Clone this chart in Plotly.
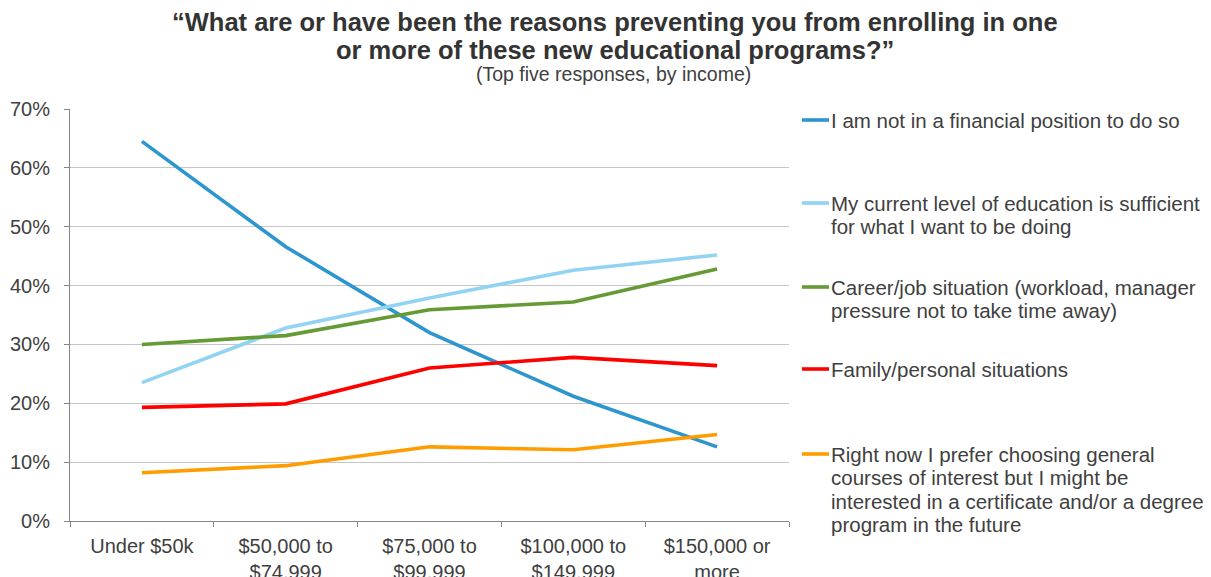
import plotly.graph_objects as go

# Income brackets (x categories)
categories = [
    "Under $50k",
    "$50,000 to<br>$74,999",
    "$75,000 to<br>$99,999",
    "$100,000 to<br>$149,999",
    "$150,000 or<br>more",
]

# Share of respondents citing each reason (%)
financial = [64.5, 46.6, 32.0, 21.2, 12.6]
education_sufficient = [23.5, 32.8, 37.9, 42.6, 45.2]
career_job = [30.0, 31.5, 35.9, 37.2, 42.8]
family_personal = [19.3, 19.9, 26.0, 27.8, 26.4]
general_courses = [8.2, 9.4, 12.6, 12.1, 14.7]

series_names = [
    "I am not in a financial position to do so",
    "My current level of education is sufficient<br>for what I want to be doing",
    "Career/job situation (workload, manager<br>pressure not to take time away)",
    "Family/personal situations",
    "Right now I prefer choosing general<br>courses of interest but I might be<br>"
    "interested in a certificate and/or a degree<br>program in the future",
]
series_values = [financial, education_sufficient, career_job, family_personal, general_courses]
series_colors = ["#2E96CE", "#92D3F3", "#659A34", "#FF0000", "#FF9C00"]

y_ticks = [0, 10, 20, 30, 40, 50, 60, 70]
y_tick_labels = [f"{v}%" for v in y_ticks]

title_lines = [
    "“What are or have been the reasons preventing you from enrolling in one",
    "or more of these new educational programs?”",
]
subtitle = "(Top five responses, by income)"

FONT = "Liberation Sans, Arial, sans-serif"
TEXT_COLOR = "#404040"

fig = go.Figure()
for name, vals, color in zip(series_names, series_values, series_colors):
    fig.add_trace(go.Scatter(
        x=categories, y=vals, mode="lines", name=name.replace("<br>", " "),
        line=dict(color=color, width=3.6), showlegend=False,
        hoverinfo="x+y",
    ))

W, H = 1211, 577
ml, mr, mt, mb = 70, 422, 109, 56
PW, PH = W - ml - mr, H - mt - mb

fig.update_layout(
    width=W, height=H,
    margin=dict(l=ml, r=mr, t=mt, b=mb, pad=0),
    paper_bgcolor="white", plot_bgcolor="white",
    font=dict(family=FONT, size=20, color=TEXT_COLOR),
    xaxis=dict(
        type="category", tickson="boundaries", ticks="outside", ticklen=5,
        tickcolor="#868686", showline=True, linecolor="#868686", linewidth=1,
        showgrid=False, tickfont=dict(size=20, color=TEXT_COLOR),
        ticklabelstandoff=7,
        range=[-0.5, 4.5], fixedrange=True, automargin=False,
    ),
    yaxis=dict(
        range=[0, 70], tickvals=y_ticks, ticktext=y_tick_labels,
        ticks="outside", ticklen=5, tickcolor="#868686",
        showline=True, linecolor="#868686", linewidth=1,
        showgrid=True, gridcolor="#C6C6C6", gridwidth=1.2,
        zeroline=False, tickfont=dict(size=20, color=TEXT_COLOR),
        ticklabelstandoff=10, fixedrange=True, automargin=False,
    ),
)

# Pixel helpers: "paper" coordinates span the plotting area
def px_x(x):
    return (x - ml) / PW

def px_y(y):
    return (H - mb - y) / PH

annotations = []
# Title, one annotation per line for tight line spacing
for i, line in enumerate(title_lines):
    annotations.append(dict(
        text=f"<b>{line}</b>", x=px_x(615), y=px_y(22 + i * 28),
        xref="paper", yref="paper", xanchor="center", yanchor="middle",
        showarrow=False, font=dict(family=FONT, size=25.5, color="#333333"),
    ))
annotations.append(dict(
    text=subtitle, x=px_x(613), y=px_y(74), xref="paper", yref="paper",
    xanchor="center", yanchor="middle", showarrow=False,
    font=dict(family=FONT, size=19.5, color=TEXT_COLOR),
))

# Side key: a short line swatch and wrapped label for each series
first_line_y = [120, 203, 287, 369, 454]
line_step = 23.5
shapes = []
for name, color, y0 in zip(series_names, series_colors, first_line_y):
    shapes.append(dict(
        type="line", xref="paper", yref="paper",
        x0=px_x(802), x1=px_x(829), y0=px_y(y0), y1=px_y(y0),
        line=dict(color=color, width=3.6),
    ))
    for i, line in enumerate(name.split("<br>")):
        annotations.append(dict(
            text=line, x=px_x(829), y=px_y(y0 + i * line_step),
            xref="paper", yref="paper", xanchor="left", yanchor="middle",
            showarrow=False, align="left",
            font=dict(family=FONT, size=20.5, color=TEXT_COLOR),
        ))

fig.update_layout(annotations=annotations, shapes=shapes)

fig.write_html("out.html")
